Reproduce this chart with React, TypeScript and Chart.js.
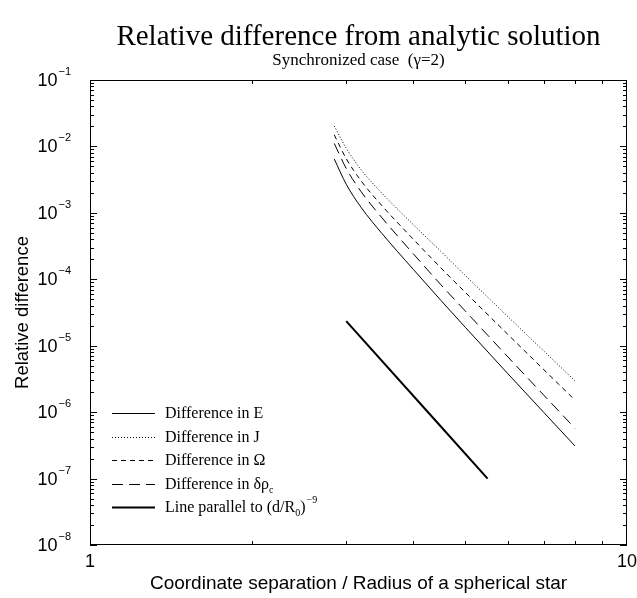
import React, { useEffect, useRef } from 'react';
import { Chart, registerables } from 'chart.js';
Chart.register(...registerables);

// Coordinate separation d/R0
const xValues = [2.85, 3.0, 3.2, 3.5, 4.0, 4.5, 5.0, 6.0, 7.0, 8.0];
const diffE = [6.47e-3, 2.7e-3, 1.2e-3, 4.85e-4, 1.41e-4, 4.83e-5, 1.89e-5, 3.79e-6, 9.89e-7, 3.1e-7];
const diffJ = [2.03e-2, 9.4e-3, 4.42e-3, 1.96e-3, 6.65e-4, 2.64e-4, 1.14e-4, 2.74e-5, 8.3e-6, 2.97e-6];
const diffOmega = [1.49e-2, 6.56e-3, 3.01e-3, 1.27e-3, 4.01e-4, 1.49e-4, 6.35e-5, 1.48e-5, 4.36e-6, 1.52e-6];
const diffRho = [1.11e-2, 4.66e-3, 2.07e-3, 8.36e-4, 2.42e-4, 8.32e-5, 3.32e-5, 6.79e-6, 1.8e-6, 5.71e-7];
const parallelX = [3.0, 5.5];
const parallelY = [2.35e-5, 1.0e-7];

const yTickExponents = ['-1', '-2', '-3', '-4', '-5', '-6', '-7', '-8'];
const xTickValues = [1, 10];
const xTickLabels = ['1', '10'];

const SERIF = '"Liberation Serif", "Times New Roman", serif';
const SANS = '"Liberation Sans", Arial, sans-serif';

const pts = (xs: number[], ys: number[]) => xs.map((x, i) => ({ x, y: ys[i] }));

const legendItems = [
  { dash: [] as number[], width: 1, parts: [{ t: 'Difference in E' }] },
  { dash: [1, 2], width: 1, parts: [{ t: 'Difference in J' }] },
  { dash: [5, 4], width: 1, parts: [{ t: 'Difference in Ω' }] },
  { dash: [11, 6], width: 1, parts: [{ t: 'Difference in δρ' }, { t: 'c', sub: true }] },
  {
    dash: [] as number[],
    width: 2,
    parts: [{ t: 'Line parallel to (d/R' }, { t: '0', sub: true }, { t: ')' }, { t: '−9', sup: true }],
  },
];

const decorPlugin = {
  id: 'decor',
  afterDraw(chart: any) {
    const ctx: CanvasRenderingContext2D = chart.ctx;
    const { left, right, top, bottom } = chart.chartArea;
    const xs = chart.scales.x;
    const ys = chart.scales.y;
    ctx.save();
    ctx.strokeStyle = '#000';
    ctx.fillStyle = '#000';
    ctx.lineWidth = 1;
    ctx.setLineDash([]);
    // frame
    ctx.strokeRect(left + 0.5, top + 0.5, right - left - 1, bottom - top - 1);
    ctx.beginPath();
    ctx.moveTo(right - 0.5, top);
    ctx.lineTo(right - 0.5, bottom);
    ctx.stroke();

    // y ticks
    ctx.beginPath();
    for (let d = -8; d <= -1; d++) {
      for (let m = 1; m <= 9; m++) {
        if (d === -1 && m > 1) break;
        const v = m * Math.pow(10, d);
        const py = Math.round(ys.getPixelForValue(v)) + 0.5;
        const len = m === 1 ? 7 : 4;
        ctx.moveTo(left, py);
        ctx.lineTo(left + len, py);
        ctx.moveTo(right, py);
        ctx.lineTo(right - len, py);
      }
    }
    // x ticks
    for (let m = 2; m <= 9; m++) {
      const px = Math.round(xs.getPixelForValue(m)) + 0.5;
      ctx.moveTo(px, bottom);
      ctx.lineTo(px, bottom - 4);
      ctx.moveTo(px, top);
      ctx.lineTo(px, top + 4);
    }
    ctx.stroke();

    // y tick labels with superscripts
    yTickExponents.forEach((e) => {
      const v = Math.pow(10, Number(e));
      const py = ys.getPixelForValue(v);
      ctx.font = `18px ${SANS}`;
      const baseW = ctx.measureText('10').width;
      const supText = e.replace('-', '−');
      ctx.font = `11px ${SANS}`;
      const supW = ctx.measureText(supText).width;
      const xEnd = 71;
      const x0 = xEnd - supW - baseW - 1;
      ctx.textBaseline = 'middle';
      ctx.textAlign = 'left';
      ctx.font = `18px ${SANS}`;
      ctx.fillText('10', x0, py + 1);
      ctx.font = `11px ${SANS}`;
      ctx.fillText(supText, x0 + baseW + 1, py - 8);
    });

    // x tick labels
    ctx.font = `18px ${SANS}`;
    ctx.textAlign = 'center';
    ctx.textBaseline = 'middle';
    xTickValues.forEach((v, i) => {
      ctx.fillText(xTickLabels[i], xs.getPixelForValue(v), 562);
    });

    // axis titles
    ctx.font = `19px ${SANS}`;
    ctx.fillText('Coordinate separation / Radius of a spherical star', (left + right) / 2, 584);
    ctx.save();
    ctx.font = `18.5px ${SANS}`;
    ctx.translate(23, (top + bottom) / 2);
    ctx.rotate(-Math.PI / 2);
    ctx.fillText('Relative difference', 0, 0);
    ctx.restore();

    // titles
    ctx.font = `29px ${SERIF}`;
    ctx.fillText('Relative difference from analytic solution', (left + right) / 2, 37);
    ctx.font = `17px ${SERIF}`;
    ctx.fillText('Synchronized case  (γ=2)', (left + right) / 2, 61);

    // legend
    const rowY = [413, 437, 460, 484, 507];
    legendItems.forEach((it, i) => {
      const y = rowY[i];
      ctx.beginPath();
      ctx.lineWidth = it.width;
      ctx.setLineDash(it.dash);
      ctx.moveTo(112, y + 0.5);
      ctx.lineTo(155, y + 0.5);
      ctx.stroke();
      ctx.setLineDash([]);
      let x = 165;
      ctx.textAlign = 'left';
      ctx.textBaseline = 'alphabetic';
      it.parts.forEach((p: any) => {
        if (p.sub) {
          ctx.font = `10px ${SERIF}`;
          ctx.fillText(p.t, x, y + 9);
        } else if (p.sup) {
          ctx.font = `10px ${SERIF}`;
          ctx.fillText(p.t, x + 1, y - 4);
        } else {
          ctx.font = `16px ${SERIF}`;
          ctx.fillText(p.t, x, y + 5);
        }
        x += ctx.measureText(p.t).width + (p.sup ? 1 : 0);
      });
    });
    ctx.restore();
  },
};

export default function App() {
  const ref = useRef<HTMLCanvasElement | null>(null);
  useEffect(() => {
    if (!ref.current) return;
    const common = {
      pointRadius: 0,
      borderColor: '#000',
      backgroundColor: '#000',
      fill: false,
      cubicInterpolationMode: 'monotone',
    };
    const chart = new Chart(ref.current, {
      type: 'line',
      data: {
        datasets: [
          { ...common, label: 'Difference in E', data: pts(xValues, diffE), borderWidth: 1 },
          { ...common, label: 'Difference in J', data: pts(xValues, diffJ), borderWidth: 1, borderDash: [1, 2] },
          { ...common, label: 'Difference in Ω', data: pts(xValues, diffOmega), borderWidth: 1, borderDash: [5, 4] },
          { ...common, label: 'Difference in δρc', data: pts(xValues, diffRho), borderWidth: 1, borderDash: [11, 6] },
          { ...common, label: 'Line parallel to (d/R0)^-9', data: pts(parallelX, parallelY), borderWidth: 2 },
        ] as any,
      },
      options: {
        animation: false,
        responsive: false,
        devicePixelRatio: 1,
        layout: { padding: { left: 90, right: 10, top: 80, bottom: 53 } },
        plugins: { legend: { display: false }, tooltip: { enabled: false }, title: { display: false } },
        scales: {
          x: { type: 'logarithmic', min: 1, max: 10, display: false },
          y: { type: 'logarithmic', min: 1e-8, max: 1e-1, display: false },
        },
      } as any,
      plugins: [decorPlugin],
    });
    return () => chart.destroy();
  }, []);
  return (
    <div style={{ position: 'absolute', left: 0, top: 0, width: 637, height: 598, background: '#fff' }}>
      <canvas ref={ref} width={637} height={598} style={{ width: 637, height: 598, display: 'block' }} />
    </div>
  );
}
